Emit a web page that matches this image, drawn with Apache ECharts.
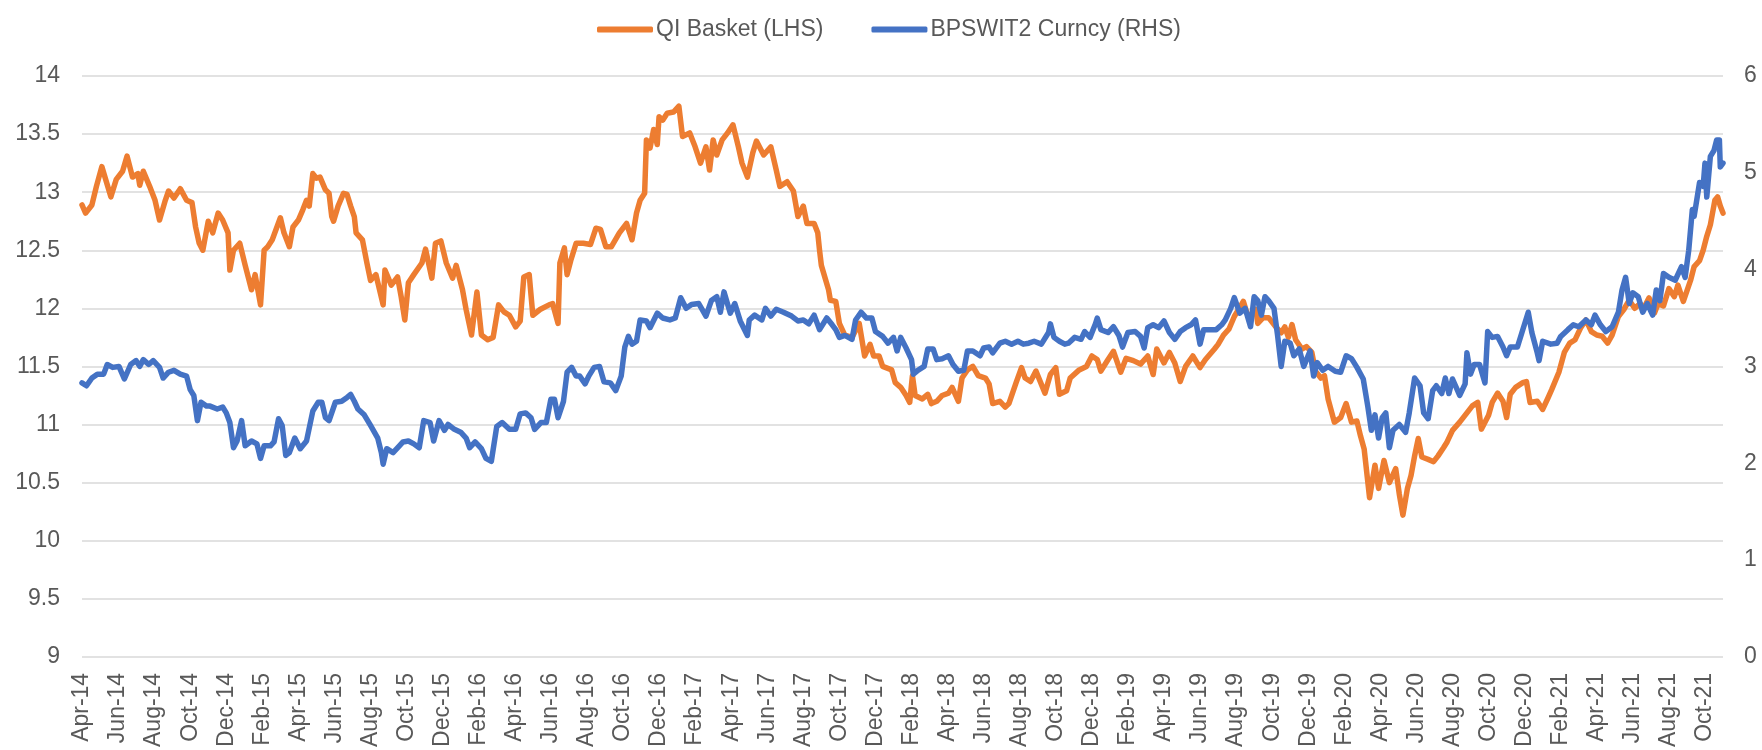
<!DOCTYPE html>
<html>
<head>
<meta charset="utf-8">
<title>QI Basket vs BPSWIT2 Curncy</title>
<script src="https://cdn.jsdelivr.net/npm/echarts@6/dist/echarts.min.js"></script>
<style>
  html, body { margin: 0; padding: 0; background: #fff; }
  #chart { width: 1762px; height: 750px; }
</style>
</head>
<body>
<div id="chart"></div>
<script>
// --- Data (x = months since Apr-2014) ---

const tickLabels = [
    'Apr-14', 'Jun-14', 'Aug-14', 'Oct-14', 'Dec-14',
    'Feb-15', 'Apr-15', 'Jun-15', 'Aug-15', 'Oct-15', 'Dec-15',
    'Feb-16', 'Apr-16', 'Jun-16', 'Aug-16', 'Oct-16', 'Dec-16',
    'Feb-17', 'Apr-17', 'Jun-17', 'Aug-17', 'Oct-17', 'Dec-17',
    'Feb-18', 'Apr-18', 'Jun-18', 'Aug-18', 'Oct-18', 'Dec-18',
    'Feb-19', 'Apr-19', 'Jun-19', 'Aug-19', 'Oct-19', 'Dec-19',
    'Feb-20', 'Apr-20', 'Jun-20', 'Aug-20', 'Oct-20', 'Dec-20',
    'Feb-21', 'Apr-21', 'Jun-21', 'Aug-21', 'Oct-21'
];

// QI Basket (LHS)
const qiBasket = [
    [0, 12.89], [0.2, 12.82], [0.55, 12.89], [0.8, 13.05], [1.1, 13.22], [1.6, 12.96], [1.9, 13.11],
    [2.25, 13.18], [2.5, 13.31], [2.8, 13.13], [3.1, 13.16], [3.2, 13.06], [3.4, 13.18], [3.75, 13.05],
    [4.05, 12.93], [4.3, 12.76], [4.4, 12.75], [4.6, 12.92], [4.8, 13.01], [5.1, 12.95], [5.45, 13.03],
    [5.8, 12.93], [6.1, 12.91], [6.3, 12.70], [6.5, 12.56], [6.7, 12.5], [7.0, 12.75], [7.25, 12.65],
    [7.55, 12.82], [7.8, 12.76], [8.1, 12.65], [8.2, 12.33], [8.4, 12.5], [8.75, 12.56], [9.05, 12.37],
    [9.4, 12.16], [9.6, 12.29], [9.9, 12.03], [10.1, 12.5], [10.3, 12.53], [10.55, 12.59], [11.0, 12.78],
    [11.2, 12.65], [11.5, 12.53], [11.7, 12.70], [12.0, 12.76], [12.25, 12.85], [12.45, 12.93], [12.6, 12.88],
    [12.8, 13.16], [13.0, 13.12], [13.2, 13.13], [13.5, 13.02], [13.7, 12.99], [13.85, 12.79], [13.95, 12.75],
    [14.2, 12.88], [14.5, 12.99], [14.7, 12.98], [14.9, 12.88], [15.1, 12.79], [15.2, 12.65], [15.55, 12.59],
    [15.8, 12.39], [16.0, 12.24], [16.3, 12.29], [16.7, 12.03], [16.8, 12.33], [17.15, 12.2], [17.5, 12.27],
    [17.7, 12.1], [17.9, 11.9], [18.1, 12.22], [18.4, 12.29], [18.85, 12.39], [19.05, 12.51], [19.4, 12.26],
    [19.6, 12.56], [19.9, 12.58], [20.2, 12.39], [20.55, 12.26], [20.75, 12.37], [21.1, 12.16], [21.3, 11.99],
    [21.6, 11.77], [21.9, 12.14], [22.15, 11.77], [22.5, 11.73], [22.8, 11.75], [23.1, 12.03], [23.4, 11.97],
    [23.7, 11.94], [24.05, 11.84], [24.3, 11.89], [24.5, 12.27], [24.8, 12.29], [25.0, 11.94], [25.4, 11.99],
    [25.9, 12.03], [26.1, 12.04], [26.4, 11.87], [26.5, 12.39], [26.75, 12.52], [26.9, 12.29], [27.1, 12.41],
    [27.4, 12.56], [27.8, 12.56], [28.2, 12.55], [28.5, 12.69], [28.75, 12.68], [29.05, 12.53], [29.35, 12.53],
    [29.8, 12.65], [30.2, 12.73], [30.5, 12.59], [30.75, 12.82], [30.95, 12.93], [31.2, 12.99], [31.3, 13.45],
    [31.5, 13.38], [31.7, 13.54], [31.9, 13.41], [32.0, 13.65], [32.2, 13.62], [32.45, 13.68], [32.8, 13.69],
    [33.1, 13.74], [33.3, 13.48], [33.7, 13.51], [34.0, 13.39], [34.3, 13.25], [34.6, 13.39], [34.8, 13.19],
    [35.0, 13.45], [35.2, 13.32], [35.5, 13.45], [35.8, 13.51], [36.1, 13.58], [36.4, 13.39], [36.6, 13.25],
    [36.9, 13.13], [37.2, 13.34], [37.4, 13.44], [37.8, 13.32], [38.2, 13.39], [38.5, 13.19], [38.7, 13.05],
    [39.1, 13.09], [39.45, 13.01], [39.7, 12.79], [40.0, 12.88], [40.2, 12.73], [40.6, 12.73], [40.8, 12.65],
    [40.9, 12.5], [41.0, 12.37], [41.4, 12.16], [41.5, 12.07], [41.8, 12.06], [42.0, 11.87], [42.3, 11.77],
    [42.7, 11.75], [43.1, 11.87], [43.4, 11.59], [43.7, 11.69], [43.9, 11.59], [44.2, 11.59], [44.4, 11.5],
    [44.9, 11.47], [45.1, 11.36], [45.4, 11.32], [45.7, 11.25], [45.9, 11.19], [46.05, 11.42], [46.2, 11.25],
    [46.6, 11.22], [46.9, 11.26], [47.1, 11.18], [47.4, 11.2], [47.7, 11.25], [48.05, 11.27], [48.25, 11.32],
    [48.6, 11.2], [48.8, 11.4], [49.1, 11.47], [49.4, 11.5], [49.7, 11.42], [50.1, 11.4], [50.3, 11.35],
    [50.5, 11.18], [50.9, 11.2], [51.2, 11.15], [51.4, 11.18], [51.8, 11.36], [52.1, 11.49], [52.3, 11.4],
    [52.6, 11.37], [52.9, 11.46], [53.4, 11.27], [53.7, 11.43], [54.0, 11.49], [54.2, 11.26], [54.6, 11.29],
    [54.8, 11.4], [55.3, 11.47], [55.7, 11.5], [56.0, 11.59], [56.3, 11.56], [56.5, 11.46], [56.9, 11.56],
    [57.2, 11.63], [57.6, 11.45], [57.9, 11.57], [58.3, 11.55], [58.7, 11.52], [59.1, 11.59], [59.4, 11.43],
    [59.6, 11.65], [60.0, 11.53], [60.3, 11.62], [60.6, 11.53], [60.9, 11.37], [61.2, 11.5], [61.6, 11.59],
    [62.0, 11.49], [62.3, 11.56], [62.8, 11.65], [63.0, 11.69], [63.3, 11.77], [63.6, 11.82], [63.9, 11.93],
    [64.4, 12.06], [64.6, 11.96], [64.8, 11.93], [65.1, 11.99], [65.2, 11.87], [65.5, 11.92], [65.8, 11.92],
    [66.2, 11.84], [66.5, 11.79], [66.7, 11.84], [66.9, 11.75], [67.1, 11.86], [67.3, 11.73], [67.65, 11.65],
    [67.9, 11.67], [68.2, 11.62], [68.4, 11.46], [68.7, 11.4], [68.9, 11.42], [69.1, 11.22], [69.45, 11.02],
    [69.8, 11.06], [70.1, 11.18], [70.4, 11.02], [70.7, 11.03], [70.9, 10.9], [71.1, 10.79], [71.4, 10.37],
    [71.7, 10.65], [71.9, 10.45], [72.2, 10.69], [72.5, 10.5], [72.85, 10.62], [73.05, 10.4], [73.25, 10.22],
    [73.5, 10.45], [73.7, 10.56], [73.9, 10.73], [74.1, 10.88], [74.3, 10.72], [74.65, 10.7], [74.95, 10.68],
    [75.2, 10.73], [75.5, 10.8], [75.7, 10.85], [76.0, 10.95], [76.4, 11.02], [76.8, 11.1], [77.1, 11.16],
    [77.4, 11.19], [77.6, 10.96], [78.0, 11.08], [78.2, 11.19], [78.5, 11.27], [78.8, 11.2], [79.0, 11.06],
    [79.2, 11.26], [79.5, 11.32], [79.9, 11.36], [80.1, 11.37], [80.3, 11.19], [80.7, 11.2], [81.0, 11.13],
    [81.3, 11.23], [81.5, 11.3], [81.9, 11.45], [82.2, 11.62], [82.5, 11.7], [82.8, 11.73], [83.1, 11.83],
    [83.4, 11.9], [83.7, 11.8], [84.0, 11.77], [84.3, 11.76], [84.6, 11.7], [84.85, 11.77], [85.2, 11.93],
    [85.5, 11.99], [85.8, 12.07], [86.1, 12.0], [86.4, 12.04], [86.6, 12.0], [86.9, 12.09], [87.2, 11.96],
    [87.4, 12.04], [87.7, 12.02], [88.0, 12.17], [88.3, 12.1], [88.5, 12.2], [88.8, 12.06], [89.2, 12.24],
    [89.4, 12.36], [89.7, 12.41], [89.9, 12.5], [90.1, 12.62], [90.3, 12.72], [90.55, 12.93], [90.7, 12.96],
    [90.85, 12.88], [91.0, 12.82]
];

// BPSWIT2 Curncy (RHS)
const bpswit2 = [
    [0, 2.83], [0.25, 2.80], [0.55, 2.88], [0.85, 2.92], [1.2, 2.92], [1.4, 3.02], [1.7, 2.99], [2.05, 3.00],
    [2.35, 2.87], [2.7, 3.02], [3.0, 3.06], [3.2, 3.00], [3.4, 3.07], [3.7, 3.02], [3.95, 3.06], [4.3, 2.99],
    [4.5, 2.88], [4.8, 2.94], [5.1, 2.96], [5.45, 2.92], [5.8, 2.90], [6.0, 2.76], [6.2, 2.70], [6.4, 2.44],
    [6.6, 2.63], [6.9, 2.59], [7.1, 2.59], [7.5, 2.56], [7.8, 2.58], [8.0, 2.52], [8.2, 2.42], [8.4, 2.16],
    [8.6, 2.23], [8.85, 2.44], [9.05, 2.18], [9.4, 2.23], [9.7, 2.20], [9.9, 2.05], [10.1, 2.18], [10.45, 2.18],
    [10.65, 2.22], [10.9, 2.46], [11.1, 2.39], [11.3, 2.08], [11.5, 2.11], [11.8, 2.26], [12.1, 2.15],
    [12.45, 2.23], [12.8, 2.54], [13.1, 2.63], [13.3, 2.63], [13.5, 2.47], [13.7, 2.44], [14.05, 2.63],
    [14.4, 2.64], [14.7, 2.68], [14.9, 2.71], [15.1, 2.64], [15.3, 2.56], [15.65, 2.50], [16.0, 2.39],
    [16.4, 2.26], [16.6, 2.11], [16.7, 1.99], [16.9, 2.15], [17.25, 2.11], [17.6, 2.18], [17.8, 2.22],
    [18.1, 2.23], [18.4, 2.20], [18.7, 2.16], [18.95, 2.44], [19.3, 2.42], [19.5, 2.23], [19.8, 2.44],
    [20.1, 2.34], [20.3, 2.40], [20.65, 2.35], [21.0, 2.32], [21.3, 2.26], [21.5, 2.16], [21.8, 2.22],
    [22.15, 2.15], [22.4, 2.05], [22.7, 2.02], [23.0, 2.38], [23.3, 2.42], [23.7, 2.35], [24.05, 2.35],
    [24.3, 2.51], [24.6, 2.52], [24.9, 2.47], [25.1, 2.35], [25.45, 2.42], [25.75, 2.42], [26.0, 2.66],
    [26.2, 2.66], [26.4, 2.47], [26.7, 2.64], [26.9, 2.94], [27.15, 2.99], [27.4, 2.90], [27.6, 2.90],
    [27.9, 2.82], [28.1, 2.90], [28.4, 2.99], [28.7, 3.00], [28.95, 2.84], [29.3, 2.83], [29.6, 2.75],
    [29.9, 2.90], [30.1, 3.20], [30.3, 3.31], [30.5, 3.23], [30.75, 3.26], [30.95, 3.48], [31.3, 3.47],
    [31.5, 3.40], [31.9, 3.55], [32.2, 3.50], [32.6, 3.48], [32.9, 3.50], [33.2, 3.71], [33.5, 3.60],
    [33.8, 3.64], [34.2, 3.65], [34.6, 3.52], [34.9, 3.68], [35.2, 3.72], [35.4, 3.56], [35.6, 3.77],
    [35.95, 3.55], [36.2, 3.65], [36.5, 3.47], [36.9, 3.32], [37.0, 3.48], [37.3, 3.53], [37.7, 3.48],
    [37.9, 3.60], [38.2, 3.52], [38.5, 3.59], [38.9, 3.56], [39.35, 3.52], [39.7, 3.47], [40.0, 3.48],
    [40.3, 3.44], [40.6, 3.53], [40.9, 3.38], [41.3, 3.50], [41.6, 3.43], [41.8, 3.38], [42.0, 3.30],
    [42.3, 3.32], [42.7, 3.28], [42.9, 3.48], [43.2, 3.56], [43.5, 3.50], [43.8, 3.50], [44.0, 3.36],
    [44.4, 3.31], [44.7, 3.24], [45.0, 3.30], [45.2, 3.16], [45.4, 3.30], [45.7, 3.19], [46.0, 3.07],
    [46.1, 2.92], [46.35, 2.96], [46.7, 3.00], [46.9, 3.18], [47.2, 3.18], [47.4, 3.07], [47.7, 3.08],
    [48.05, 3.11], [48.3, 3.02], [48.6, 2.95], [48.9, 2.96], [49.1, 3.16], [49.4, 3.16], [49.8, 3.11],
    [50.0, 3.19], [50.3, 3.20], [50.5, 3.14], [50.9, 3.24], [51.2, 3.26], [51.55, 3.23], [51.9, 3.26],
    [52.2, 3.23], [52.5, 3.24], [52.8, 3.26], [53.2, 3.23], [53.6, 3.35], [53.7, 3.44], [53.9, 3.30],
    [54.2, 3.26], [54.5, 3.23], [54.7, 3.24], [55.05, 3.30], [55.4, 3.28], [55.6, 3.36], [55.9, 3.30],
    [56.2, 3.44], [56.3, 3.50], [56.5, 3.38], [56.9, 3.35], [57.2, 3.41], [57.5, 3.32], [57.7, 3.20],
    [58.0, 3.35], [58.4, 3.36], [58.7, 3.31], [58.9, 3.19], [59.1, 3.40], [59.4, 3.43], [59.7, 3.40],
    [60.0, 3.47], [60.3, 3.35], [60.6, 3.28], [60.9, 3.36], [61.2, 3.40], [61.5, 3.43], [61.75, 3.48],
    [62.0, 3.23], [62.2, 3.38], [62.55, 3.38], [62.9, 3.38], [63.2, 3.43], [63.4, 3.48], [63.7, 3.60],
    [63.9, 3.71], [64.2, 3.55], [64.5, 3.60], [64.8, 3.41], [65.0, 3.72], [65.2, 3.68], [65.4, 3.53],
    [65.6, 3.72], [65.8, 3.68], [66.1, 3.60], [66.3, 3.32], [66.5, 3.00], [66.7, 3.26], [67.0, 3.24],
    [67.2, 3.11], [67.5, 3.18], [67.75, 3.00], [68.1, 3.16], [68.3, 2.90], [68.5, 3.04], [68.8, 2.96],
    [69.1, 3.00], [69.5, 2.95], [69.8, 2.94], [70.1, 3.11], [70.4, 3.08], [70.7, 2.99], [71.05, 2.87],
    [71.3, 2.59], [71.5, 2.34], [71.7, 2.50], [71.9, 2.26], [72.1, 2.47], [72.3, 2.52], [72.5, 2.16],
    [72.7, 2.34], [73.05, 2.40], [73.4, 2.32], [73.6, 2.52], [73.9, 2.88], [74.2, 2.80], [74.4, 2.52],
    [74.65, 2.46], [74.9, 2.75], [75.1, 2.80], [75.4, 2.72], [75.6, 2.88], [75.8, 2.72], [76.0, 2.87],
    [76.4, 2.70], [76.7, 2.82], [76.8, 3.14], [77.0, 2.92], [77.2, 3.02], [77.5, 3.02], [77.8, 2.83],
    [77.95, 3.36], [78.2, 3.30], [78.5, 3.31], [78.8, 3.20], [79.0, 3.11], [79.2, 3.20], [79.6, 3.20],
    [79.85, 3.35], [80.2, 3.56], [80.4, 3.35], [80.7, 3.14], [80.8, 3.06], [81.0, 3.26], [81.45, 3.23],
    [81.8, 3.24], [82.0, 3.31], [82.4, 3.38], [82.7, 3.43], [83.0, 3.41], [83.4, 3.48], [83.7, 3.43],
    [83.9, 3.53], [84.2, 3.43], [84.5, 3.36], [84.85, 3.41], [85.2, 3.56], [85.4, 3.79], [85.6, 3.92],
    [85.8, 3.65], [86.0, 3.76], [86.3, 3.72], [86.55, 3.56], [86.8, 3.65], [87.1, 3.53], [87.3, 3.79],
    [87.5, 3.68], [87.7, 3.96], [88.0, 3.92], [88.35, 3.89], [88.7, 4.03], [88.9, 3.92], [89.1, 4.20],
    [89.3, 4.62], [89.4, 4.55], [89.7, 4.90], [89.9, 4.86], [90.0, 5.10], [90.1, 4.75], [90.3, 5.17],
    [90.5, 5.23], [90.65, 5.34], [90.8, 5.34], [90.85, 5.06], [91.0, 5.10]
];

// --- Chart ---

const TEXT_COLOR = '#595959';
const FONT = "'Liberation Sans', Arial, sans-serif";
const FONT_SIZE = 23;

const chart = echarts.init(document.getElementById('chart'), null, { renderer: 'canvas' });

const option = {
    animation: false,
    backgroundColor: '#ffffff',
    textStyle: { fontFamily: FONT, color: TEXT_COLOR },
    legend: {
        top: 13,
        left: 592,
        icon: 'roundRect',
        itemWidth: 56,
        itemHeight: 6,
        itemGap: 48,
        textStyle: { fontSize: FONT_SIZE, color: TEXT_COLOR, fontFamily: FONT, padding: [0, 0, 0, -2] },
        data: ['QI Basket (LHS)', 'BPSWIT2 Curncy (RHS)']
    },
    grid: { left: 82, right: 39, top: 76, bottom: 90 },
    xAxis: {
        type: 'value',
        min: 0,
        max: 91,
        interval: 2,
        axisLine: { show: false },
        axisTick: { show: false },
        splitLine: { show: false },
        axisLabel: {
            rotate: 90,
            margin: 16,
            fontSize: FONT_SIZE,
            color: TEXT_COLOR,
            fontFamily: FONT,
            showMaxLabel: false,
            formatter: (v) => (v % 2 === 0 ? (tickLabels[v / 2] || '') : '')
        }
    },
    yAxis: [
        {
            type: 'value',
            min: 9,
            max: 14,
            interval: 0.5,
            axisLine: { show: false },
            axisTick: { show: false },
            axisLabel: { fontSize: FONT_SIZE, color: TEXT_COLOR, fontFamily: FONT, margin: 22 },
            splitLine: { lineStyle: { color: '#d9d9d9', width: 1.5 } }
        },
        {
            type: 'value',
            min: 0,
            max: 6,
            interval: 1,
            axisLine: { show: false },
            axisTick: { show: false },
            axisLabel: { fontSize: FONT_SIZE, color: TEXT_COLOR, fontFamily: FONT, margin: 21 },
            splitLine: { show: false }
        }
    ],
    series: [
        {
            name: 'QI Basket (LHS)',
            type: 'line',
            yAxisIndex: 0,
            data: qiBasket,
            symbol: 'none',
            color: '#ED7D31',
            lineStyle: { color: '#ED7D31', width: 5.5, join: 'round', cap: 'round' }
        },
        {
            name: 'BPSWIT2 Curncy (RHS)',
            type: 'line',
            yAxisIndex: 1,
            data: bpswit2,
            symbol: 'none',
            color: '#4472C4',
            lineStyle: { color: '#4472C4', width: 5.5, join: 'round', cap: 'round' }
        }
    ]
};

chart.setOption(option);
</script>
</body>
</html>
